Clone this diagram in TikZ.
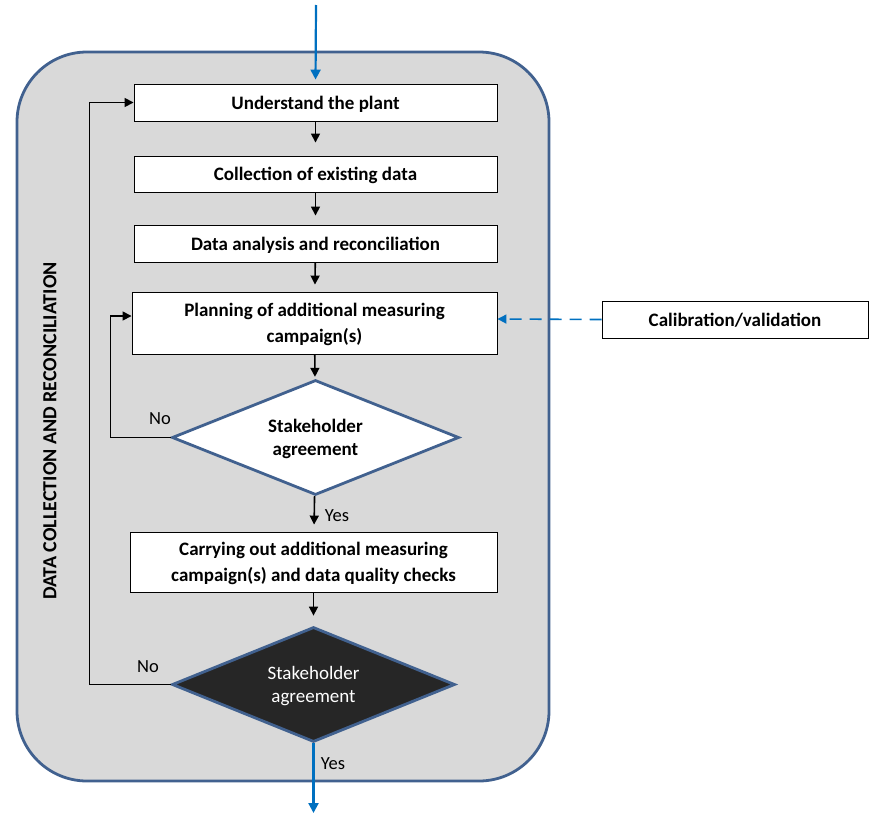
\documentclass[tikz,border=0pt]{standalone}
\usepackage{fontspec}
\setmainfont{Carlito}
\usetikzlibrary{shapes.geometric,arrows.meta}
\definecolor{frameblue}{HTML}{41618F}
\definecolor{flowblue}{HTML}{0070C0}
\definecolor{panelgray}{HTML}{D9D9D9}
\definecolor{darkfill}{HTML}{262626}
\begin{document}
\begin{tikzpicture}[x=1pt,y=-1pt,
  stepbox/.style={draw=black, line width=0.9pt, fill=white, align=center,
    inner sep=0pt, text depth=0pt, font=\bfseries\fontsize{19}{25.5}\selectfont},
  decision/.style={diamond, draw=frameblue, line width=2.8pt, align=center,
    inner sep=0pt, aspect=2.5, text depth=0pt},
  flow/.style={line width=1.6pt, -{Triangle[length=9pt,width=9pt]}},
  mainflow/.style={draw=flowblue, line width=2.2pt, -{Triangle[length=10pt,width=10pt]}},
  lbl/.style={font=\fontsize{18.5}{22}\selectfont, inner sep=0pt}]
\useasboundingbox (0,0) rectangle (869,814);

% panel
\draw[draw=frameblue, fill=panelgray, line width=2.8pt, rounded corners=70pt]
  (17,52) rectangle (549,781);

\node[rotate=90, font=\bfseries\fontsize{20}{22}\selectfont] (title) at (50,431)
  {DATA COLLECTION AND RECONCILIATION};

% process steps
\node[stepbox, minimum width=363pt, minimum height=37pt] (s1) at (315.5,102.5)
  {Understand the plant};
\node[stepbox, minimum width=363pt, minimum height=36pt] (s2) at (315.5,174)
  {Collection of existing data};
\node[stepbox, minimum width=363pt, minimum height=37pt] (s3) at (315.5,243.5)
  {Data analysis and reconciliation};
\node[stepbox, minimum width=365pt, minimum height=62pt] (s4) at (314.5,323)
  {Planning of additional measuring\\campaign(s)};
\node[decision, fill=white, font=\bfseries\fontsize{19}{23.5}\selectfont,
  minimum width=287pt, minimum height=115pt] (d1) at (315.5,437.5)
  {Stakeholder\\agreement};
\node[stepbox, minimum width=367pt, minimum height=60pt] (s5) at (313.5,562)
  {Carrying out additional measuring\\campaign(s) and data quality checks};
\node[decision, fill=darkfill, text=white, font=\fontsize{19}{23.5}\selectfont,
  minimum width=283pt, minimum height=115pt] (d2) at (313.5,684.5)
  {Stakeholder\\agreement};
\node[stepbox, minimum width=266pt, minimum height=37pt] (cal) at (735,319.5)
  {Calibration/validation};

% entry and exit
\coordinate (entry) at (316,5);
\coordinate (exit) at (313.5,813);
\draw[mainflow, shorten >=4pt] (entry) -- (s1.north);
\draw[mainflow] (d2.south) -- (exit);

% main sequence
\draw[flow, shorten >=13pt] (s1) -- (s2);
\draw[flow, shorten >=9pt] (s2) -- (s3);
\draw[flow, shorten >=7pt] (s3) -- (s4);
\draw[flow, shorten >=2pt] (s4) -- (d1);
\draw[flow, shorten >=7pt] (d1) -- (s5);
\draw[flow, shorten >=10pt] (s5) -- (d2);

% feedback loops
\draw[flow] (d1.west) -- ++(-60,0) |- ([yshift=7pt]s4.west);
\draw[flow] (d2.west) -- ++(-81,0) |- (s1.west);

% calibration input
\draw[draw=flowblue, line width=1.6pt, dash pattern=on 12pt off 8pt,
  -{Triangle[length=9pt,width=9pt]}] (cal.west) -- ([yshift=4pt]s4.east);

% labels
\node[lbl] (no1) at (160,419) {No};
\node[lbl] (yes1) at (337,516) {Yes};
\node[lbl] (no2) at (148,667) {No};
\node[lbl] (yes2) at (333,764) {Yes};
\end{tikzpicture}
\end{document}
